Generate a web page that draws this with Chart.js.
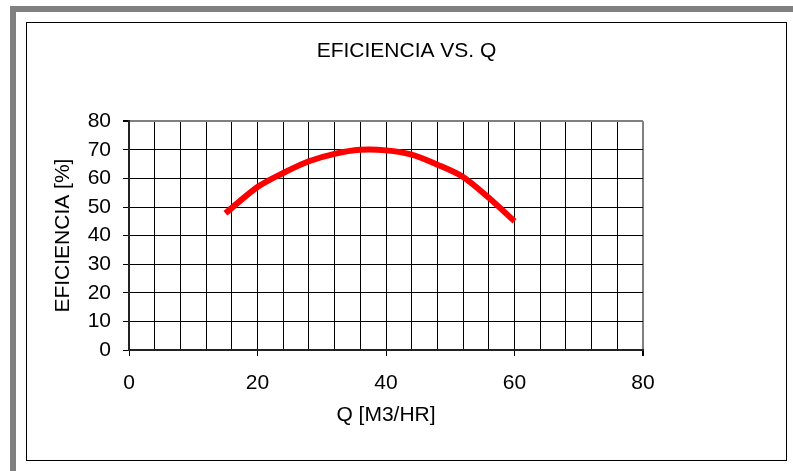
<!DOCTYPE html>
<html>
<head>
<meta charset="utf-8">
<script src="https://cdn.jsdelivr.net/npm/chart.js@4/dist/chart.umd.min.js"></script>
<style>
  html, body { margin: 0; padding: 0; background: #fff; width: 793px; height: 471px; overflow: hidden; }
  #outer { position: absolute; left: 10px; top: 6px; width: 800px; height: 480px;
           border-top: 6px solid #808080; border-left: 6px solid #808080; box-sizing: border-box; }
  #inner { position: absolute; left: 26px; top: 22px; width: 761px; height: 439px;
           border: 1px solid #000; box-sizing: border-box; }
  #c { position: absolute; left: 0; top: 0; }
</style>
</head>
<body>
<div id="outer"></div>
<div id="inner"></div>
<canvas id="c" width="793" height="471"></canvas>
<script>
const chartTitle = 'EFICIENCIA VS. Q';
const xTitle = 'Q [M3/HR]';
const yTitle = 'EFICIENCIA [%]';
const flowQ = [15, 20, 24, 28, 32, 36, 40, 44, 48, 52, 56, 60];
const efficiency = [47.8, 57, 61.9, 66, 68.6, 70, 69.8, 68.3, 64.8, 60.5, 53.2, 45];
const xTickLabels = [0, 20, 40, 60, 80];
const yTickLabels = [0, 10, 20, 30, 40, 50, 60, 70, 80];

const FONT = { family: 'Liberation Sans, Arial, sans-serif', size: 21, weight: 'normal' };

new Chart(document.getElementById('c'), {
  type: 'line',
  data: {
    datasets: [{
      data: flowQ.map((q, i) => ({ x: q, y: efficiency[i] })),
      borderColor: '#ff0000',
      borderWidth: 6,
      borderCapStyle: 'butt',
      borderJoinStyle: 'round',
      pointRadius: 0,
      tension: 0.3,
      fill: false
    }]
  },
  options: {
    responsive: false,
    animation: false,
    devicePixelRatio: 1,
    layout: { padding: { left: 26, right: 6, top: 22, bottom: 11 } },
    plugins: {
      legend: { display: false },
      tooltip: { enabled: false },
      title: {
        display: true,
        text: chartTitle,
        color: '#000',
        font: FONT,
        padding: { top: 17, bottom: 57 }
      }
    },
    scales: {
      x: {
        type: 'linear',
        min: 0, max: 80,
        afterFit: s => { s.height = 110; },
        afterBuildTicks: s => { s.ticks = Array.from({ length: 21 }, (_, i) => ({ value: i * 4 })); },
        ticks: {
          autoSkip: false, maxRotation: 0, color: '#000', font: FONT, padding: 15,
          callback: v => xTickLabels.includes(v) ? String(v) : ''
        },
        grid: {
          color: c => c.tick && c.tick.value === 80 ? '#808080' : '#000',
          lineWidth: c => c.tick && c.tick.value === 80 ? 2 : 1,
          tickColor: c => c.tick && xTickLabels.includes(c.tick.value) ? '#000' : 'rgba(0,0,0,0)',
          tickLength: 6
        },
        border: { color: '#222', width: 2 },
        title: { display: true, text: xTitle, color: '#000', font: FONT, padding: { top: 0, bottom: 32 } }
      },
      y: {
        type: 'linear',
        min: 0, max: 80,
        afterFit: s => { s.width = 103; },
        afterBuildTicks: s => { s.ticks = yTickLabels.map(v => ({ value: v })); },
        ticks: { color: '#000', font: FONT, padding: 12 },
        grid: {
          color: c => c.tick && c.tick.value === 80 ? '#808080' : '#000',
          lineWidth: c => c.tick && c.tick.value === 80 ? 2 : 1,
          tickColor: '#000',
          tickLength: 6
        },
        border: { color: '#222', width: 2 },
        title: { display: true, text: yTitle, color: '#000', font: FONT, padding: { top: 25, bottom: 0 } }
      },
      spacer: {
        type: 'linear',
        position: 'right',
        display: true,
        afterFit: s => { s.width = 144; },
        ticks: { display: false },
        grid: { display: false, drawTicks: false },
        border: { display: false }
      }
    }
  }
});
</script>
</body>
</html>
